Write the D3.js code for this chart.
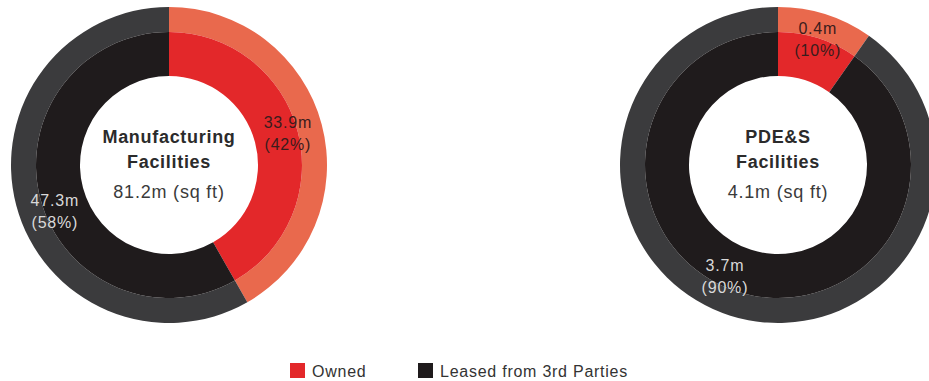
<!DOCTYPE html>
<html>
<head>
<meta charset="utf-8">
<script src="https://cdn.jsdelivr.net/npm/d3@7"></script>
<style>
  body { margin: 0; background: #fff; }
  svg { display: block; font-family: "Liberation Sans", Arial, sans-serif; }
</style>
</head>
<body>
<div id="chart-area"></div>
<script>
var categories = ["Owned", "Leased from 3rd Parties"];
var chartTitles = [["Manufacturing", "Facilities"], ["PDE&S", "Facilities"]];
var chartTotals = ["81.2m (sq ft)", "4.1m (sq ft)"];
var manufacturingValues = [33.9, 47.3];
var pdesValues = [0.4, 3.7];
var manufacturingPercents = ["42%", "58%"];
var pdesPercents = ["10%", "90%"];

var innerColors = ["#e3282a", "#1f1b1c"];
var outerColors = ["#e9694d", "#3b3b3d"];
var labelColors = ["#3a1c1c", "#d9d9d9"];

var width = 929, height = 381;

var svg = d3
  .select("#chart-area")
  .append("svg")
  .attr("width", width)
  .attr("height", height);

var charts = [
  { cx: 169, values: manufacturingValues, percents: manufacturingPercents, labelShift: [0, -7] },
  { cx: 778, values: pdesValues, percents: pdesPercents, labelShift: [0, 8] }
];

var rHole = 89, rMid = 133, rOuter = 158, cy = 165;

var pie = d3.pie().sort(null).value(function (d) { return d; });
var innerArc = d3.arc().innerRadius(rHole).outerRadius(rMid);
var outerArc = d3.arc().innerRadius(rMid).outerRadius(rOuter);

charts.forEach(function (c, ci) {
  var g = svg.append("g").attr("transform", "translate(" + c.cx + "," + cy + ")");
  var arcs = pie(c.values);

  g.selectAll("path.outer")
    .data(arcs)
    .enter()
    .append("path")
    .attr("class", "outer")
    .attr("d", outerArc)
    .attr("fill", function (d, i) { return outerColors[i]; });

  g.selectAll("path.inner")
    .data(arcs)
    .enter()
    .append("path")
    .attr("class", "inner")
    .attr("d", innerArc)
    .attr("fill", function (d, i) { return innerColors[i]; });

  // slice labels
  arcs.forEach(function (d, i) {
    var mid = (d.startAngle + d.endAngle) / 2 + (c.labelShift[i] * Math.PI) / 180;
    var r = i === 0 && ci === 1 ? 132 : 123;
    var x = Math.sin(mid) * r;
    var y = -Math.cos(mid) * r;
    var t = g.append("text")
      .attr("text-anchor", "middle")
      .attr("font-size", "16px")
      .attr("letter-spacing", "0.8px")
      .attr("fill", labelColors[i]);
    t.append("tspan").attr("x", x).attr("y", y - 5).text(d3.format(".1f")(d.data) + "m");
    t.append("tspan").attr("x", x).attr("y", y + 17).text("(" + c.percents[i] + ")");
  });

  // centre text
  g.append("text")
    .attr("text-anchor", "middle")
    .attr("font-size", "18px")
    .attr("font-weight", "bold")
    .attr("letter-spacing", "0.7px")
    .attr("fill", "#2b2b2b")
    .attr("y", -22)
    .text(chartTitles[ci][0]);
  g.append("text")
    .attr("text-anchor", "middle")
    .attr("font-size", "18px")
    .attr("font-weight", "bold")
    .attr("letter-spacing", "0.7px")
    .attr("fill", "#2b2b2b")
    .attr("y", 3)
    .text(chartTitles[ci][1]);
  g.append("text")
    .attr("text-anchor", "middle")
    .attr("font-size", "18px")
    .attr("letter-spacing", "0.8px")
    .attr("fill", "#3a3a3a")
    .attr("y", 33)
    .text(chartTotals[ci]);
});

/*----legend---- */
var legendX = [290, 418];
var legend = svg.selectAll("g.legend")
  .data(categories)
  .enter()
  .append("g")
  .attr("class", "legend")
  .attr("transform", function (d, i) { return "translate(" + legendX[i] + ",363)"; });

legend.append("rect")
  .attr("width", 15)
  .attr("height", 15)
  .attr("fill", function (d, i) { return innerColors[i]; });

legend.append("text")
  .attr("x", 22)
  .attr("y", 14)
  .attr("font-size", "16px")
  .attr("letter-spacing", "0.75px")
  .attr("fill", "#333")
  .text(function (d) { return d; });
</script>
</body>
</html>
